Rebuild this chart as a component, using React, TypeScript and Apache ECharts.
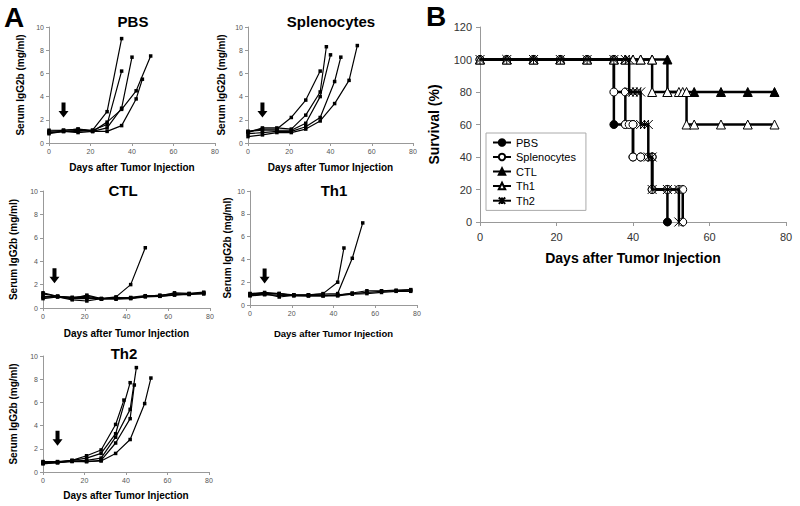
import { useEffect, useRef } from 'react';
import * as echarts from 'echarts';

const FONT = '"Liberation Sans", Arial, Helvetica, sans-serif';

// ---------- Panel A data (Serum IgG2b, mg/ml) ----------
const weekly = [0, 7, 14, 21, 28, 35, 42, 49, 56, 63, 70, 77];

const pbsDays = [
  [0, 7, 14, 21, 28, 35],
  [0, 7, 14, 21, 28, 35],
  [0, 7, 14, 21, 28, 35, 40],
  [0, 7, 14, 21, 28, 35, 42, 49],
  [0, 7, 14, 21, 28, 35, 42, 45],
];
const pbsVals = [
  [0.9, 1.0, 1.0, 1.1, 2.7, 9.0],
  [1.0, 1.1, 1.2, 1.1, 1.6, 6.2],
  [0.8, 1.0, 1.1, 1.0, 1.3, 3.0, 7.4],
  [1.1, 1.1, 1.2, 1.0, 1.8, 2.9, 4.5, 7.5],
  [0.9, 1.0, 0.9, 1.0, 1.0, 1.5, 3.8, 5.5],
];

const splDays = [
  [0, 7, 14, 21, 28, 35],
  [0, 7, 14, 21, 28, 35, 38],
  [0, 7, 14, 21, 28, 35, 40],
  [0, 7, 14, 21, 28, 35, 42, 45],
  [0, 7, 14, 21, 28, 35, 42, 49, 53],
];
const splVals = [
  [1.0, 1.2, 1.2, 2.2, 3.7, 6.2],
  [0.9, 1.3, 1.3, 1.2, 2.4, 4.4, 8.3],
  [1.0, 1.1, 1.1, 1.1, 1.7, 4.0, 7.6],
  [0.8, 0.9, 1.0, 1.0, 1.4, 2.2, 5.3, 7.4],
  [0.55, 0.7, 0.9, 0.9, 1.2, 1.9, 3.4, 5.4, 8.4],
];

const ctlDays = [[0, 7, 14, 21, 28, 35, 42, 49], weekly, weekly, weekly, weekly];
const ctlVals = [
  [1.3, 1.0, 0.9, 1.0, 0.8, 0.95, 2.0, 5.15],
  [1.2, 1.0, 0.8, 1.1, 0.8, 0.9, 0.85, 1.0, 1.05, 1.3, 1.25, 1.35],
  [1.0, 0.95, 0.7, 0.6, 0.8, 0.8, 0.85, 1.0, 1.1, 1.2, 1.2, 1.3],
  [0.9, 1.0, 0.9, 0.9, 0.75, 0.85, 0.9, 1.05, 1.0, 1.1, 1.2, 1.2],
  [0.8, 0.95, 0.8, 0.8, 0.8, 0.75, 0.8, 0.95, 1.0, 1.15, 1.15, 1.25],
];

const th1Days = [
  [0, 7, 14, 21, 28, 35, 42, 45],
  [0, 7, 14, 21, 28, 35, 42, 49, 54],
  weekly,
  weekly,
  weekly,
];
const th1Vals = [
  [1.0, 1.1, 1.0, 0.85, 0.9, 1.0, 2.0, 5.0],
  [0.9, 1.0, 1.0, 0.9, 0.9, 0.95, 1.0, 4.1, 7.2],
  [1.0, 1.0, 0.7, 0.85, 0.85, 0.8, 0.9, 1.0, 1.1, 1.2, 1.25, 1.3],
  [0.85, 0.95, 1.0, 0.8, 0.8, 0.85, 0.85, 1.05, 1.25, 1.25, 1.3, 1.35],
  [0.8, 0.9, 0.85, 0.85, 0.8, 0.8, 0.8, 0.95, 1.0, 1.1, 1.2, 1.2],
];

const th2Days = [
  [0, 7, 14, 21, 28, 35, 39],
  [0, 7, 14, 21, 28, 35, 42],
  [0, 7, 14, 21, 28, 35, 42, 45],
  [0, 7, 14, 21, 28, 35, 42, 44],
  [0, 7, 14, 21, 28, 35, 42, 49, 52],
];
const th2Vals = [
  [0.9, 0.9, 1.0, 1.4, 1.9, 4.1, 6.2],
  [0.85, 0.85, 1.0, 1.2, 1.6, 3.3, 7.7],
  [0.8, 0.85, 0.95, 1.0, 1.2, 3.0, 5.4, 9.0],
  [0.7, 0.8, 0.95, 0.9, 1.0, 2.5, 4.6, 7.5],
  [0.75, 0.8, 0.9, 0.9, 0.95, 1.6, 2.8, 5.9, 8.1],
];

const panelTitles = ['PBS', 'Splenocytes', 'CTL', 'Th1', 'Th2'];
const panelDays = [pbsDays, splDays, ctlDays, th1Days, th2Days];
const panelVals = [pbsVals, splVals, ctlVals, th1Vals, th2Vals];
// arrow (treatment day) position: [day, level]
const arrowDays = [7, 7, 5.5, 7, 7];
const arrowLevels = [2.85, 2.85, 2.75, 2.55, 2.9];

const aXTicks = [0, 80, 20];
const aYTicks = [0, 10, 2];

// ---------- Panel B data (Survival %) ----------
const survNames = ['PBS', 'Splenocytes', 'CTL', 'Th1', 'Th2'];
const pbsSurvDays = [0, 7, 14, 21, 28, 35, 35, 38, 40, 40, 42, 45, 45, 49, 49];
const pbsSurv = [100, 100, 100, 100, 100, 100, 60, 60, 60, 40, 40, 40, 20, 20, 0];
const splSurvDays = [0, 7, 14, 21, 28, 35, 35, 38, 38, 39, 40, 40, 42, 44, 45, 45, 49, 52, 53, 53];
const splSurv = [100, 100, 100, 100, 100, 100, 80, 80, 60, 60, 60, 40, 40, 40, 40, 20, 20, 20, 20, 0];
const ctlSurvDays = [0, 7, 14, 21, 28, 35, 38, 42, 45, 49, 49, 56, 63, 70, 77];
const ctlSurv = [100, 100, 100, 100, 100, 100, 100, 100, 100, 100, 80, 80, 80, 80, 80];
const th1SurvDays = [0, 7, 14, 21, 28, 35, 38, 40, 42, 45, 45, 49, 52, 53, 54, 54, 56, 63, 70, 77];
const th1Surv = [100, 100, 100, 100, 100, 100, 100, 100, 100, 100, 80, 80, 80, 80, 80, 60, 60, 60, 60, 60];
const th2SurvDays = [0, 7, 14, 21, 28, 35, 38, 39, 39, 40, 41, 42, 42, 43, 44, 44, 45, 45, 49, 52, 52];
const th2Surv = [100, 100, 100, 100, 100, 100, 100, 100, 80, 80, 80, 80, 60, 60, 60, 40, 40, 20, 20, 20, 0];
const survDays = [pbsSurvDays, splSurvDays, ctlSurvDays, th1SurvDays, th2SurvDays];
const survVals = [pbsSurv, splSurv, ctlSurv, th1Surv, th2Surv];

const bXTicks = [0, 80, 20];
const bYTicks = [0, 120, 20];

// ---------- layout ----------
const aGrids = [
  { left: 49, top: 27, width: 166, height: 116 },
  { left: 248, top: 27, width: 165, height: 116 },
  { left: 43, top: 191, width: 167, height: 117 },
  { left: 250, top: 191, width: 167, height: 114 },
  { left: 43, top: 356, width: 166, height: 116 },
];
const aXNameGap = [19, 19, 20, 23, 18];
const aYNameGap = [24, 22, 25, 18, 25];
const aXNameSize = [10, 10, 10, 9.5, 10];
const aTitlePos = [
  [133, 21],
  [331, 21],
  [123, 190],
  [334, 190],
  [124, 353],
];
const bGrid = { left: 480, top: 27, width: 306, height: 195 };

const ARROW = 'path://M3,0 L7,0 L7,9 L10,9 L5,16 L0,9 L3,9 Z';
const STAR = 'path://M0,0 L10,10 M10,0 L0,10 M5,0 L5,10';

export default function App() {
  const ref = useRef<HTMLDivElement>(null);

  useEffect(() => {
    if (!ref.current) return;
    const chart = echarts.init(ref.current, null, { renderer: 'svg' });

    const grid: any[] = [];
    const xAxis: any[] = [];
    const yAxis: any[] = [];
    const series: any[] = [];
    const graphic: any[] = [];

    aGrids.forEach((g, i) => {
      grid.push({ ...g });
      xAxis.push({
        type: 'value',
        gridIndex: i,
        min: aXTicks[0],
        max: aXTicks[1],
        interval: aXTicks[2],
        axisLine: { show: true, lineStyle: { color: '#999', width: 1 } },
        axisTick: { show: true, length: 3, lineStyle: { color: '#999' } },
        axisLabel: { fontSize: 7, color: '#555', margin: 5, fontFamily: FONT },
        splitLine: { show: false },
        name: 'Days after Tumor Injection',
        nameLocation: 'middle',
        nameGap: aXNameGap[i],
        nameTextStyle: { fontSize: aXNameSize[i], fontWeight: 'bold', color: '#000', fontFamily: FONT },
      });
      yAxis.push({
        type: 'value',
        gridIndex: i,
        min: aYTicks[0],
        max: aYTicks[1],
        interval: aYTicks[2],
        axisLine: { show: true, lineStyle: { color: '#999', width: 1 } },
        axisTick: { show: true, length: 3, lineStyle: { color: '#999' } },
        axisLabel: { fontSize: 7, color: '#555', margin: 5, fontFamily: FONT },
        splitLine: { show: false },
        name: 'Serum IgG2b (mg/ml)',
        nameLocation: 'middle',
        nameRotate: 90,
        nameGap: aYNameGap[i],
        nameTextStyle: { fontSize: 10, fontWeight: 'bold', color: '#000', fontFamily: FONT },
      });
      panelDays[i].forEach((days, j) => {
        series.push({
          type: 'line',
          name: panelTitles[i] + ' mouse ' + (j + 1),
          xAxisIndex: i,
          yAxisIndex: i,
          data: days.map((d, k) => [d, panelVals[i][j][k]]),
          symbol: 'rect',
          symbolSize: 3.5,
          lineStyle: { color: '#000', width: 1.2 },
          itemStyle: { color: '#000' },
          silent: true,
        });
      });
      series.push({
        type: 'scatter',
        name: panelTitles[i] + ' treatment',
        xAxisIndex: i,
        yAxisIndex: i,
        data: [[arrowDays[i], arrowLevels[i]]],
        symbol: ARROW,
        symbolSize: [10, 15],
        symbolKeepAspect: false,
        itemStyle: { color: '#000', opacity: 1 },
        silent: true,
      });
      graphic.push({
        type: 'text',
        x: aTitlePos[i][0],
        y: aTitlePos[i][1],
        style: {
          text: panelTitles[i],
          fontSize: 15,
          fontWeight: 'bold',
          fontFamily: FONT,
          fill: '#000',
          textAlign: 'center',
          textVerticalAlign: 'middle',
        },
      });
    });

    // Panel B
    const bi = 5;
    grid.push({ ...bGrid });
    xAxis.push({
      type: 'value',
      gridIndex: bi,
      min: bXTicks[0],
      max: bXTicks[1],
      interval: bXTicks[2],
      axisLine: { show: true, lineStyle: { color: '#999', width: 1 } },
      axisTick: { show: true, length: 4, lineStyle: { color: '#999' } },
      axisLabel: { fontSize: 11, color: '#333', margin: 9, fontFamily: FONT },
      splitLine: { show: false },
      name: 'Days after Tumor Injection',
      nameLocation: 'middle',
      nameGap: 29,
      nameTextStyle: { fontSize: 14, fontWeight: 'bold', color: '#000', fontFamily: FONT },
    });
    yAxis.push({
      type: 'value',
      gridIndex: bi,
      min: bYTicks[0],
      max: bYTicks[1],
      interval: bYTicks[2],
      axisLine: { show: true, lineStyle: { color: '#999', width: 1 } },
      axisTick: { show: true, length: 4, lineStyle: { color: '#999' } },
      axisLabel: { fontSize: 11, color: '#333', margin: 8, fontFamily: FONT },
      splitLine: { show: false },
      name: 'Survival (%)',
      nameLocation: 'middle',
      nameRotate: 90,
      nameGap: 39,
      nameTextStyle: { fontSize: 14, fontWeight: 'bold', color: '#000', fontFamily: FONT },
    });
    const symbols = ['circle', 'circle', 'triangle', 'triangle', STAR];
    const fills = ['#000', '#fff', '#000', '#fff', 'none'];
    const sizes = [8, 8, 9, 9, 9];
    survNames.forEach((nm, i) => {
      series.push({
        type: 'line',
        name: nm,
        xAxisIndex: bi,
        yAxisIndex: bi,
        data: survDays[i].map((d, k) => [d, survVals[i][k]]),
        symbol: symbols[i],
        symbolSize: sizes[i],
        showAllSymbol: true,
        lineStyle: { color: '#000', width: 2.5 },
        itemStyle: { color: fills[i], borderColor: '#000', borderWidth: 1 },
        silent: true,
        z: 3 + i,
      });
    });

    graphic.push(
      {
        type: 'text',
        x: 14,
        y: 17,
        style: { text: 'A', fontSize: 28, fontWeight: 'bold', fontFamily: FONT, fill: '#000', textAlign: 'center', textVerticalAlign: 'middle' },
      },
      {
        type: 'text',
        x: 436,
        y: 16,
        style: { text: 'B', fontSize: 28, fontWeight: 'bold', fontFamily: FONT, fill: '#000', textAlign: 'center', textVerticalAlign: 'middle' },
      }
    );

    chart.setOption({
      animation: false,
      backgroundColor: '#fff',
      grid,
      xAxis,
      yAxis,
      series,
      graphic,
      legend: {
        data: survNames,
        orient: 'vertical',
        left: 486,
        top: 133,
        itemWidth: 18,
        itemHeight: 8,
        itemGap: 3.5,
        padding: [4, 10, 4, 6],
        borderColor: '#aaa',
        borderWidth: 1,
        textStyle: { fontSize: 11, color: '#000', fontFamily: FONT },
        selectedMode: false,
      },
    });

    return () => chart.dispose();
  }, []);

  return (
    <div
      ref={ref}
      style={{ position: 'fixed', left: 0, top: 0, width: 800, height: 506, background: '#fff' }}
    />
  );
}
